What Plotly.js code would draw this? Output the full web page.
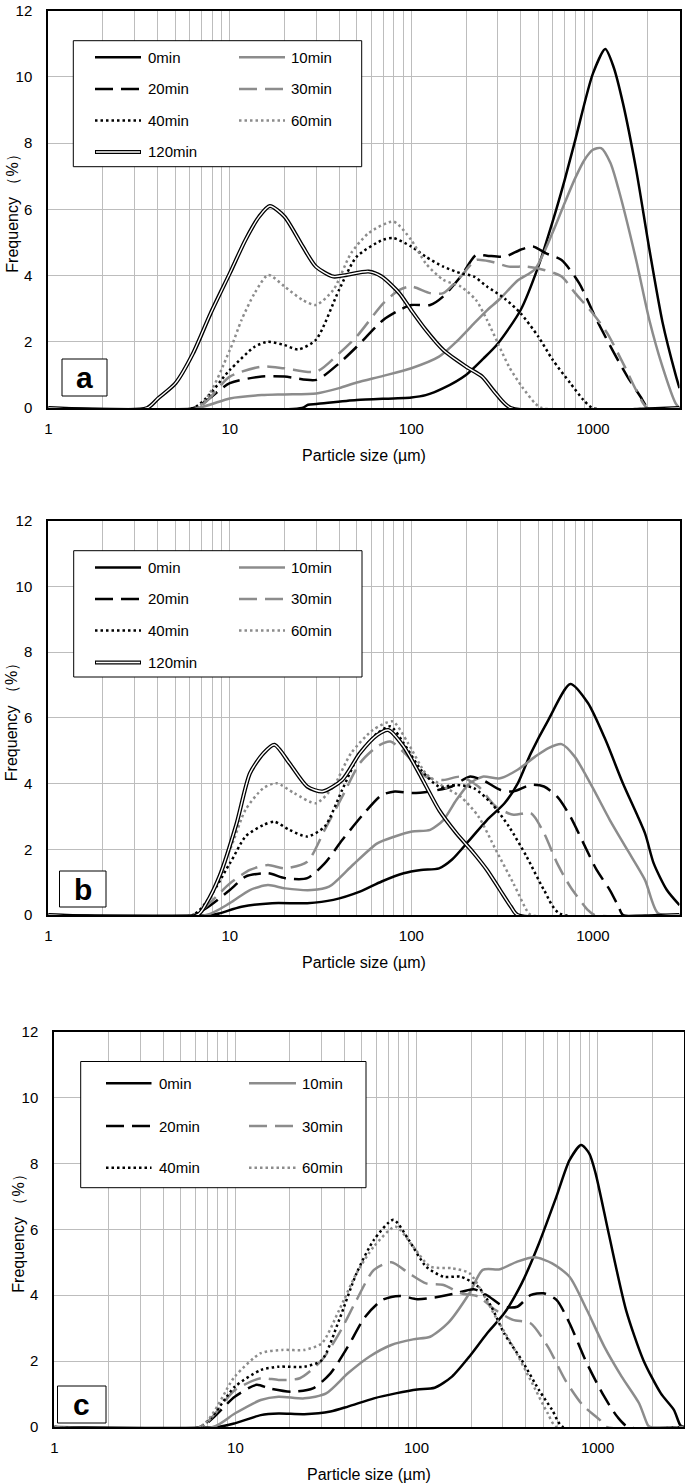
<!DOCTYPE html>
<html>
<head>
<meta charset="utf-8">
<script src="https://cdn.plot.ly/plotly-3.0.1.min.js"></script>
<style>html,body{margin:0;padding:0;background:#fff}</style>
</head>
<body>
<div id="chart" style="width:685px;height:1483px"></div>
<script>
// ---- series labels ----
var seriesNames = ['0min', '10min', '20min', '30min', '40min', '60min', '120min'];

// ---- panel a ----
var a_0min_size = [1, 25, 27, 30, 50, 100, 120, 150, 200, 250, 300, 400, 500, 600, 700, 800, 1000, 1170, 1300, 1465, 1731, 2046, 2417, 2857, 3000];
var a_0min_freq = [0, 0, 0.1, 0.12, 0.24, 0.32, 0.39, 0.6, 1.0, 1.5, 1.95, 2.96, 4.27, 5.63, 6.9, 8.1, 10.1, 10.84, 10.3, 9.2, 7.2, 4.8, 2.6, 1.0, 0.6];
var a_10min_size = [1, 6.6, 10, 15, 20, 30, 40, 50, 70, 100, 142, 177, 221, 261, 308, 385, 481, 600, 700, 800, 900, 1000, 1110, 1250, 1386, 1731, 2046, 2417, 2857, 3000];
var a_10min_freq = [0, 0, 0.29, 0.39, 0.41, 0.44, 0.6, 0.77, 0.97, 1.2, 1.55, 2.0, 2.55, 2.95, 3.3, 3.85, 4.2, 5.3, 6.2, 6.95, 7.5, 7.8, 7.85, 7.4, 6.6, 4.47, 2.66, 1.25, 0.14, 0];
var a_20min_size = [1, 6.3, 10, 15, 20, 30, 40, 50, 70, 86, 100, 127, 150, 187, 227, 261, 326, 400, 468, 553, 672, 840, 1049, 1311, 1549, 1830, 2020, 3000];
var a_20min_freq = [0, 0, 0.75, 0.95, 0.95, 0.85, 1.35, 1.85, 2.66, 2.96, 3.11, 3.11, 3.37, 3.97, 4.62, 4.6, 4.57, 4.78, 4.88, 4.67, 4.47, 3.77, 2.66, 1.65, 0.95, 0.34, 0, 0];
var a_30min_size = [1, 6.6, 10, 15, 20, 30, 40, 50, 70, 86, 100, 127, 150, 187, 227, 276, 345, 431, 538, 672, 799, 998, 1199, 1498, 1731, 2000, 3000];
var a_30min_freq = [0, 0, 0.95, 1.25, 1.2, 1.1, 1.65, 2.16, 3.16, 3.57, 3.67, 3.47, 3.47, 3.97, 4.47, 4.42, 4.27, 4.27, 4.17, 3.97, 3.47, 2.86, 2.26, 1.25, 0.54, 0, 0];
var a_40min_size = [1, 6.3, 10, 13.7, 16.2, 20, 23.8, 29.8, 40, 50, 69.8, 79.8, 99.7, 120, 150, 187, 221, 261, 326, 400, 500, 601, 751, 888, 998, 3000];
var a_40min_freq = [0, 0, 1.15, 1.85, 2.0, 1.9, 1.77, 2.06, 3.57, 4.57, 5.08, 5.13, 4.88, 4.57, 4.27, 4.07, 3.97, 3.67, 3.31, 2.86, 2.16, 1.45, 0.75, 0.24, 0, 0];
var a_60min_size = [1, 6.6, 10, 11.6, 13.7, 16.3, 20, 25.2, 29.8, 37.2, 46.5, 58.1, 79.8, 99.7, 120, 150, 187, 227, 261, 300, 345, 407, 481, 523, 3000];
var a_60min_freq = [0, 0, 1.75, 2.66, 3.47, 4.02, 3.67, 3.26, 3.11, 3.57, 4.67, 5.28, 5.63, 5.08, 4.37, 3.87, 3.67, 3.26, 2.66, 1.95, 1.25, 0.64, 0.14, 0, 0];
var a_120min_size = [1, 3.5, 4.02, 5.02, 6.27, 7.84, 10, 12.2, 14.5, 16.6, 20, 25.2, 29.8, 37.2, 44, 58.1, 68.6, 85.8, 99.7, 120, 150, 200, 245, 292, 354, 3000];
var a_120min_freq = [0, 0, 0.29, 0.75, 1.65, 2.86, 4.07, 5.08, 5.78, 6.1, 5.78, 4.88, 4.27, 3.97, 4.02, 4.12, 3.97, 3.47, 2.96, 2.36, 1.75, 1.25, 0.95, 0.44, 0, 0];

// ---- panel b ----
var b_0min_size = [1, 7.84, 8.76, 11.6, 17.1, 26.7, 37.2, 52, 68.6, 90.7, 113, 142, 167, 209, 261, 326, 385, 455, 569, 751, 939, 1173, 1465, 1935, 2163, 2556, 3000];
var b_0min_freq = [0, 0, 0.05, 0.25, 0.36, 0.36, 0.46, 0.71, 1.02, 1.27, 1.37, 1.42, 1.68, 2.28, 2.89, 3.4, 4.0, 4.92, 5.94, 7.03, 6.45, 5.33, 4.0, 2.49, 1.57, 0.76, 0.3];
var b_10min_size = [1, 7.41, 10, 12.9, 16.2, 20.2, 28.2, 35.2, 46.5, 64.9, 81.1, 101, 127, 150, 177, 209, 247, 308, 385, 481, 569, 672, 794, 992, 1240, 1549, 1935, 2286, 3000];
var b_10min_freq = [0, 0, 0.36, 0.76, 0.91, 0.81, 0.76, 0.86, 1.47, 2.18, 2.39, 2.54, 2.59, 2.89, 3.5, 4.0, 4.21, 4.16, 4.42, 4.82, 5.08, 5.2, 4.82, 3.9, 2.89, 1.98, 1.07, 0.05, 0];
var b_20min_size = [1, 6.27, 10, 12.2, 16.2, 20.2, 26.7, 33.3, 41.6, 55, 68.6, 81.1, 101, 127, 167, 209, 247, 308, 365, 455, 538, 636, 751, 888, 1049, 1240, 1386, 1465, 3000];
var b_20min_freq = [0, 0, 0.76, 1.17, 1.27, 1.12, 1.12, 1.57, 2.28, 3.1, 3.65, 3.76, 3.71, 3.76, 3.91, 4.21, 4.11, 3.81, 3.76, 3.96, 3.91, 3.6, 3.0, 2.18, 1.37, 0.76, 0.25, 0, 0];
var b_30min_size = [1, 6.27, 10, 12.9, 16.2, 20.2, 26.7, 33.3, 41.6, 52, 64.9, 76.7, 95.9, 120, 150, 187, 234, 292, 365, 455, 538, 636, 751, 939, 1020, 3000];
var b_30min_freq = [0, 0, 0.96, 1.37, 1.52, 1.42, 1.62, 2.59, 3.6, 4.62, 5.13, 5.28, 4.82, 4.21, 4.11, 4.21, 3.91, 3.3, 3.05, 3.1, 2.49, 1.57, 0.86, 0.15, 0, 0];
var b_40min_size = [1, 6.27, 10, 12.2, 15.3, 17.6, 21.3, 26.7, 33.3, 41.6, 52, 64.9, 76.7, 90.7, 113, 142, 177, 221, 276, 345, 431, 538, 654, 3000];
var b_40min_freq = [0, 0, 1.57, 2.39, 2.74, 2.84, 2.59, 2.39, 2.69, 3.81, 4.92, 5.53, 5.74, 5.23, 4.42, 3.91, 3.96, 3.86, 3.4, 2.69, 1.78, 0.76, 0.05, 0];
var b_60min_size = [1, 6.63, 10, 12.2, 15.3, 18.1, 22.6, 29.8, 37.2, 46.5, 61.4, 78.9, 95.9, 120, 150, 187, 234, 292, 365, 431, 455, 3000];
var b_60min_freq = [0, 0, 1.98, 3.2, 3.86, 4.01, 3.71, 3.4, 3.91, 4.92, 5.63, 5.89, 5.23, 4.31, 3.91, 3.6, 3.0, 1.98, 0.96, 0.15, 0, 0];
var b_120min_size = [1, 6.63, 7.41, 8.76, 10.9, 12.9, 15.3, 17.6, 21.3, 26.7, 32.4, 41.6, 52, 64.9, 74.6, 90.7, 113, 142, 177, 221, 261, 308, 354, 385, 3000];
var b_120min_freq = [0, 0, 0.35, 1.17, 2.79, 4.31, 4.92, 5.18, 4.62, 3.91, 3.76, 4.11, 4.92, 5.48, 5.63, 5.13, 4.21, 3.2, 2.49, 1.88, 1.37, 0.76, 0.25, 0, 0];

// ---- panel c ----
var c_0min_size = [1, 7.95, 9.92, 13.8, 17.3, 24.0, 33.5, 41.8, 58.2, 76.7, 101, 126, 157, 196, 245, 305, 381, 475, 593, 700, 812, 900, 975, 1151, 1436, 1790, 2235, 2638, 2866, 3000];
var c_0min_freq = [0, 0, 0.11, 0.36, 0.41, 0.39, 0.47, 0.62, 0.87, 1.02, 1.14, 1.19, 1.53, 2.14, 2.84, 3.45, 4.36, 5.58, 7.0, 8.1, 8.56, 8.3, 7.7, 5.88, 3.55, 2.03, 1.02, 0.52, 0.05, 0];
var c_10min_size = [1, 7.52, 9.92, 13.8, 17.3, 24.0, 31.7, 41.8, 55.1, 72.6, 95.7, 119, 149, 196, 232, 289, 360, 450, 561, 700, 873, 1089, 1358, 1694, 1892, 1950, 3000];
var c_10min_freq = [0, 0, 0.41, 0.82, 0.92, 0.87, 1.02, 1.63, 2.14, 2.49, 2.66, 2.74, 3.15, 4.06, 4.77, 4.79, 5.02, 5.15, 4.97, 4.56, 3.55, 2.44, 1.53, 0.72, 0.06, 0, 0];
var c_20min_size = [1, 6.38, 9.92, 13.1, 15.4, 20.4, 26.8, 33.5, 41.8, 52.1, 65.0, 81.1, 101, 126, 166, 207, 245, 305, 360, 426, 502, 593, 700, 873, 1089, 1285, 1476, 3000];
var c_20min_freq = [0, 0, 0.92, 1.28, 1.17, 1.07, 1.17, 1.63, 2.44, 3.35, 3.86, 3.98, 3.88, 3.93, 4.06, 4.18, 4.0, 3.65, 3.65, 4.0, 4.06, 3.86, 3.15, 1.93, 0.92, 0.31, 0, 0];
var c_30min_size = [1, 6.38, 9.92, 13.8, 17.3, 22.7, 30.0, 37.4, 46.7, 58.2, 72.6, 90.6, 113, 141, 176, 219, 273, 341, 426, 531, 662, 826, 1031, 1119, 3000];
var c_30min_freq = [0, 0, 1.12, 1.48, 1.43, 1.48, 2.03, 2.84, 3.86, 4.77, 5.0, 4.67, 4.36, 4.31, 4.06, 3.96, 3.55, 3.25, 3.15, 2.44, 1.43, 0.67, 0.21, 0, 0];
var c_40min_size = [1, 6.38, 9.92, 13.8, 17.3, 24.0, 30.0, 37.4, 46.7, 58.2, 74.6, 90.6, 113, 141, 176, 219, 259, 305, 381, 475, 561, 644, 3000];
var c_40min_freq = [0, 0, 1.22, 1.73, 1.83, 1.83, 2.03, 3.25, 4.67, 5.68, 6.29, 5.68, 4.87, 4.56, 4.56, 4.26, 3.65, 2.84, 2.03, 1.12, 0.52, 0, 0];
var c_60min_size = [1, 6.38, 9.92, 13.8, 18.2, 24.0, 30.0, 37.4, 46.7, 58.2, 76.7, 95.7, 119, 157, 196, 232, 273, 341, 426, 531, 593, 3000];
var c_60min_freq = [0, 0, 1.53, 2.24, 2.34, 2.34, 2.54, 3.55, 4.67, 5.48, 6.08, 5.48, 4.87, 4.82, 4.67, 4.06, 3.35, 2.44, 1.43, 0.41, 0, 0];

// axis ticks
var xTickVals = [1, 10, 100, 1000];
var xTickText = ['1', '10', '100', '1000'];
var yTickVals = [0, 2, 4, 6, 8, 10, 12];

// ---- styles ----
var W = 685, H = 1483;
var BLACK = '#000000', GREY = '#8c8c8c';
var lineColors = [BLACK, GREY, BLACK, GREY, BLACK, GREY, BLACK];
var lineDashes = ['solid', 'solid', '18px,8px', '18px,8px', '2.5px,3px', '2.5px,3px', 'solid'];
var FONT = 'Liberation Sans, Arial, sans-serif';

function fx(px) { return px / W; }
function fy(py) { return 1 - py / H; }

// pixel layout of each panel
var panels = [
  {tag: 'a',
   sizes: [a_0min_size, a_10min_size, a_20min_size, a_30min_size, a_40min_size, a_60min_size, a_120min_size],
   freqs: [a_0min_freq, a_10min_freq, a_20min_freq, a_30min_freq, a_40min_freq, a_60min_freq, a_120min_freq],
   plot: {l: 48.3, r: 679.5, t: 10.7, b: 408},
   leg: {l: 73.3, r: 361.7, t: 40.7, b: 166.7, rows: [57.3, 89, 120.5, 152], lines: [[95, 141], [239, 285]], texts: [146, 289]},
   box: {l: 62, r: 107, t: 359, b: 396}},
  {tag: 'b',
   sizes: [b_0min_size, b_10min_size, b_20min_size, b_30min_size, b_40min_size, b_60min_size, b_120min_size],
   freqs: [b_0min_freq, b_10min_freq, b_20min_freq, b_30min_freq, b_40min_freq, b_60min_freq, b_120min_freq],
   plot: {l: 48.3, r: 679.5, t: 520.7, b: 915},
   leg: {l: 73.7, r: 362, t: 550.7, b: 677, rows: [567.5, 599, 630.5, 662.5], lines: [[95, 141], [239, 285]], texts: [146, 289]},
   box: {l: 59.5, r: 106, t: 871, b: 907}},
  {tag: 'c',
   sizes: [c_0min_size, c_10min_size, c_20min_size, c_30min_size, c_40min_size, c_60min_size],
   freqs: [c_0min_freq, c_10min_freq, c_20min_freq, c_30min_freq, c_40min_freq, c_60min_freq],
   plot: {l: 54.3, r: 684, t: 1031.7, b: 1427},
   leg: {l: 80.7, r: 366, t: 1061.5, b: 1187.7, rows: [1083.3, 1126, 1167.7], lines: [[106, 151.5], [249, 296]], texts: [157, 300]},
   box: {l: 57.5, r: 106, t: 1386, b: 1423}}
];

var minorVals = [];
[1, 10, 100, 1000].forEach(function (d) {
  for (var k = 2; k <= 9; k++) if (d * k <= 3000) minorVals.push(d * k);
});

var data = [], shapes = [], annotations = [];
var layout = {
  width: W, height: H,
  margin: {l: 0, r: 0, t: 0, b: 0},
  paper_bgcolor: '#fff', plot_bgcolor: '#fff',
  showlegend: false,
  font: {family: FONT, size: 15, color: '#000'}
};

panels.forEach(function (p, i) {
  var n = i === 0 ? '' : String(i + 1);
  var xa = 'x' + n, ya = 'y' + n;

  layout['xaxis' + n] = {
    type: 'log', range: [0, Math.log10(3000)],
    domain: [fx(p.plot.l), fx(p.plot.r)], anchor: ya,
    tickmode: 'array', tickvals: xTickVals, ticktext: xTickText,
    ticks: '', ticklabelstandoff: 6,
    showgrid: true, gridcolor: '#bdbdbd', gridwidth: 1,
    minor: {tickmode: 'array', tickvals: minorVals, showgrid: true, gridcolor: '#bdbdbd', gridwidth: 1, ticks: ''},
    showline: true, mirror: true, linecolor: '#000', linewidth: 2,
    zeroline: false, fixedrange: true,
    tickfont: {size: 15}
  };
  layout['yaxis' + n] = {
    range: [0, 12], domain: [fy(p.plot.b), fy(p.plot.t)], anchor: xa,
    tickmode: 'array', tickvals: yTickVals,
    ticks: '', ticklabelstandoff: 11,
    showgrid: true, gridcolor: '#bdbdbd', gridwidth: 1,
    showline: true, mirror: true, linecolor: '#000', linewidth: 2,
    zeroline: false, fixedrange: true,
    tickfont: {size: 15}
  };

  // curves
  p.sizes.forEach(function (sz, k) {
    var dbl = seriesNames[k] === '120min';
    data.push({
      x: sz, y: p.freqs[k], xaxis: xa, yaxis: ya, type: 'scatter', mode: 'lines',
      name: seriesNames[k], hoverinfo: 'skip',
      line: {color: lineColors[k], width: dbl ? 4 : 2.5, dash: lineDashes[k], shape: 'spline', smoothing: 0.7}
    });
    if (dbl) {
      data.push({
        x: sz, y: p.freqs[k], xaxis: xa, yaxis: ya, type: 'scatter', mode: 'lines',
        hoverinfo: 'skip',
        line: {color: '#fff', width: 1.4, shape: 'spline', smoothing: 0.7}
      });
    }
  });

  // legend box
  var L = p.leg;
  shapes.push({type: 'rect', xref: 'paper', yref: 'paper',
    x0: fx(L.l), x1: fx(L.r), y0: fy(L.b), y1: fy(L.t),
    line: {color: '#000', width: 1}, fillcolor: '#fff'});
  p.sizes.forEach(function (sz, k) {
    var row = Math.floor(k / 2), col = k % 2;
    var yy = fy(L.rows[row]);
    var dbl = seriesNames[k] === '120min';
    shapes.push({type: 'line', xref: 'paper', yref: 'paper',
      x0: fx(L.lines[col][0]), x1: fx(L.lines[col][1]), y0: yy, y1: yy,
      line: {color: lineColors[k], width: dbl ? 4 : 2.5, dash: lineDashes[k]}});
    if (dbl) {
      shapes.push({type: 'line', xref: 'paper', yref: 'paper',
        x0: fx(L.lines[col][0] + 1), x1: fx(L.lines[col][1] - 1), y0: yy, y1: yy,
        line: {color: '#fff', width: 1.4}});
    }
    annotations.push({xref: 'paper', yref: 'paper', x: fx(L.texts[col]), y: yy,
      xanchor: 'left', yanchor: 'middle', showarrow: false,
      text: seriesNames[k], font: {size: 15}});
  });

  // panel tag
  var B = p.box;
  shapes.push({type: 'rect', xref: 'paper', yref: 'paper',
    x0: fx(B.l), x1: fx(B.r), y0: fy(B.b), y1: fy(B.t),
    line: {color: '#000', width: 1}, fillcolor: '#fff'});
  annotations.push({xref: 'paper', yref: 'paper', x: fx((B.l + B.r) / 2), y: fy((B.t + B.b) / 2),
    xanchor: 'center', yanchor: 'middle', showarrow: false,
    text: '<b>' + p.tag + '</b>', font: {size: 30}});

  // axis titles
  annotations.push({xref: 'paper', yref: 'paper', x: fx((p.plot.l + p.plot.r) / 2), y: fy(p.plot.b + 47),
    xanchor: 'center', yanchor: 'middle', showarrow: false,
    text: 'Particle size (µm)', font: {size: 16}});
  annotations.push({xref: 'paper', yref: 'paper', x: fx(p.plot.l - 36), y: fy((p.plot.t + p.plot.b) / 2),
    xanchor: 'center', yanchor: 'middle', showarrow: false, textangle: -90,
    text: 'Frequency （%）', font: {size: 16}});
});

layout.shapes = shapes;
layout.annotations = annotations;

Plotly.newPlot('chart', data, layout, {staticPlot: true, displayModeBar: false});
</script>
</body>
</html>
